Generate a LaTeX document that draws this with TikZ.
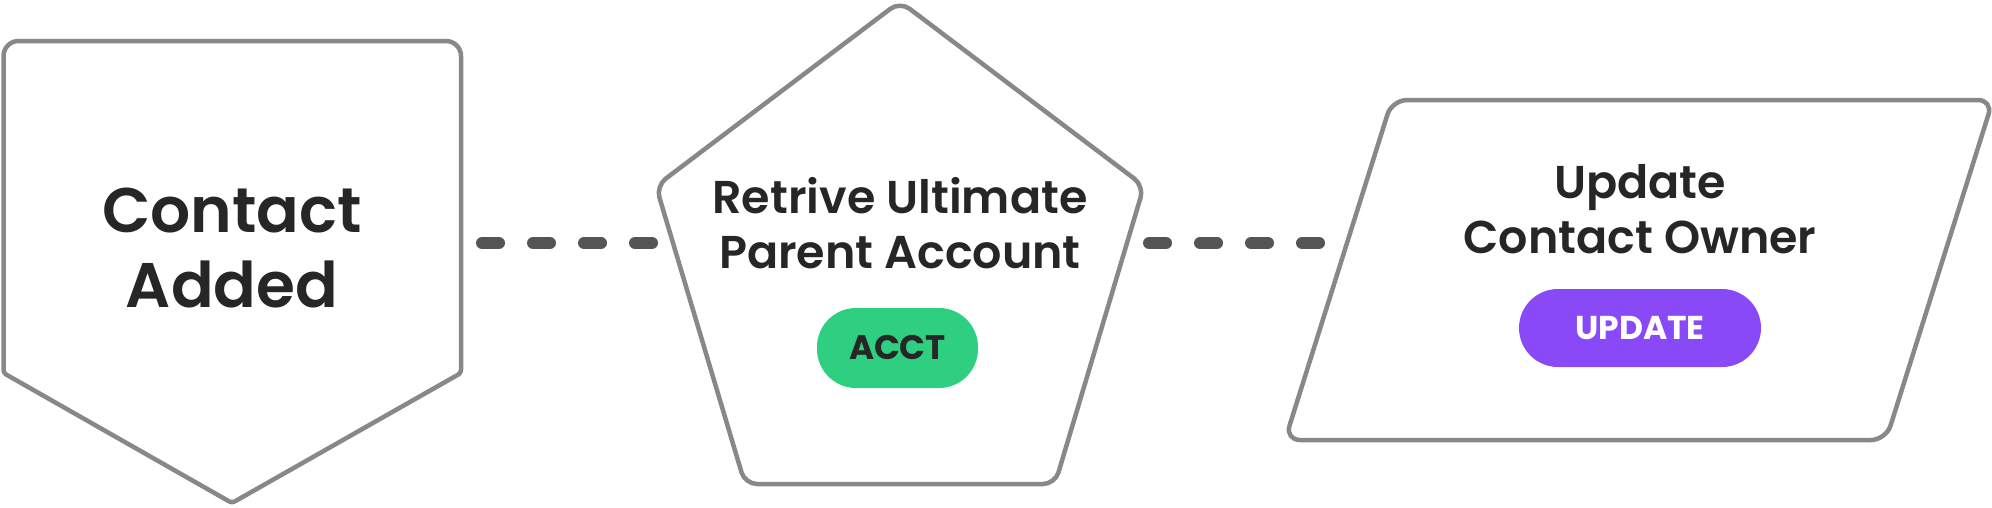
\documentclass[tikz,border=0pt]{standalone}
\usepackage{fontspec}
\setmainfont{Poppins}[UprightFont=* SemiBold, BoldFont=* Bold]
\definecolor{strokegray}{HTML}{888888}
\definecolor{dashgray}{HTML}{555555}
\definecolor{txt}{HTML}{262626}
\definecolor{pillgreen}{HTML}{2ECF80}
\definecolor{pillpurple}{HTML}{8A49F7}
\tikzset{
  outline/.style={draw=strokegray, line width=4.5pt, fill=white, line join=round},
  conn/.style={draw=dashgray, line width=12pt, line cap=round, dash pattern=on 17pt off 34pt},
  bigtxt/.style={text=txt, inner sep=0pt, anchor=base, font=\fontsize{63}{75}\selectfont},
  midtxt/.style={text=txt, inner sep=0pt, anchor=base, font=\fontsize{46}{55}\selectfont},
  pill/.style={rectangle, rounded corners=39pt, inner sep=0pt, minimum height=80pt, font=\bfseries\fontsize{34}{40}\selectfont}
}
\begin{document}
\begin{tikzpicture}[x=1pt,y=-1pt]
\useasboundingbox (0,0) rectangle (1992,507);
% shield
\draw[outline] (232,503) [rounded corners=3pt] -- (3.5,373) [rounded corners=15pt] -- (3.5,41) -- (461,41) [rounded corners=3pt] -- (461,373) -- cycle;
% pentagon
\draw[outline, rounded corners=12pt] (900,1.5) -- (1144,186) -- (1055,484) -- (745,484) -- (656,186) -- cycle;
% parallelogram
\draw[outline, rounded corners=15pt] (1392,100) -- (1993,100) -- (1886,440) -- (1285,440) -- cycle;
% anchor coordinates
\coordinate (shieldE) at (461,243);
\coordinate (pentW) at (673,243);
\coordinate (pentE) at (1127,243);
\coordinate (paraW) at (1347,243);
% connectors
\draw[conn, shorten <=21pt, shorten >=21pt] (shieldE) -- (pentW);
\draw[conn, shorten <=22pt, shorten >=28pt] (pentE) -- (paraW);
% texts
\node[bigtxt] (t1a) at (232,232) {Contact};
\node[bigtxt] (t1b) at (232,307) {Added};
\node[midtxt] (t2a) at (900,213) {Retrive Ultimate};
\node[midtxt] (t2b) at (900,268) {Parent Account};
\node[midtxt] (t3a) at (1640,198) {Update};
\node[midtxt] (t3b) at (1640,253) {Contact Owner};
% pills
\node[pill, fill=pillgreen, text=txt, minimum width=161pt] (acct) at (897.5,348) {ACCT};
\node[pill, fill=pillpurple, text=white, minimum width=242pt, minimum height=78pt, font=\bfseries\fontsize{33}{40}\selectfont] (upd) at (1640,328) {UPDATE};
\end{tikzpicture}
\end{document}
